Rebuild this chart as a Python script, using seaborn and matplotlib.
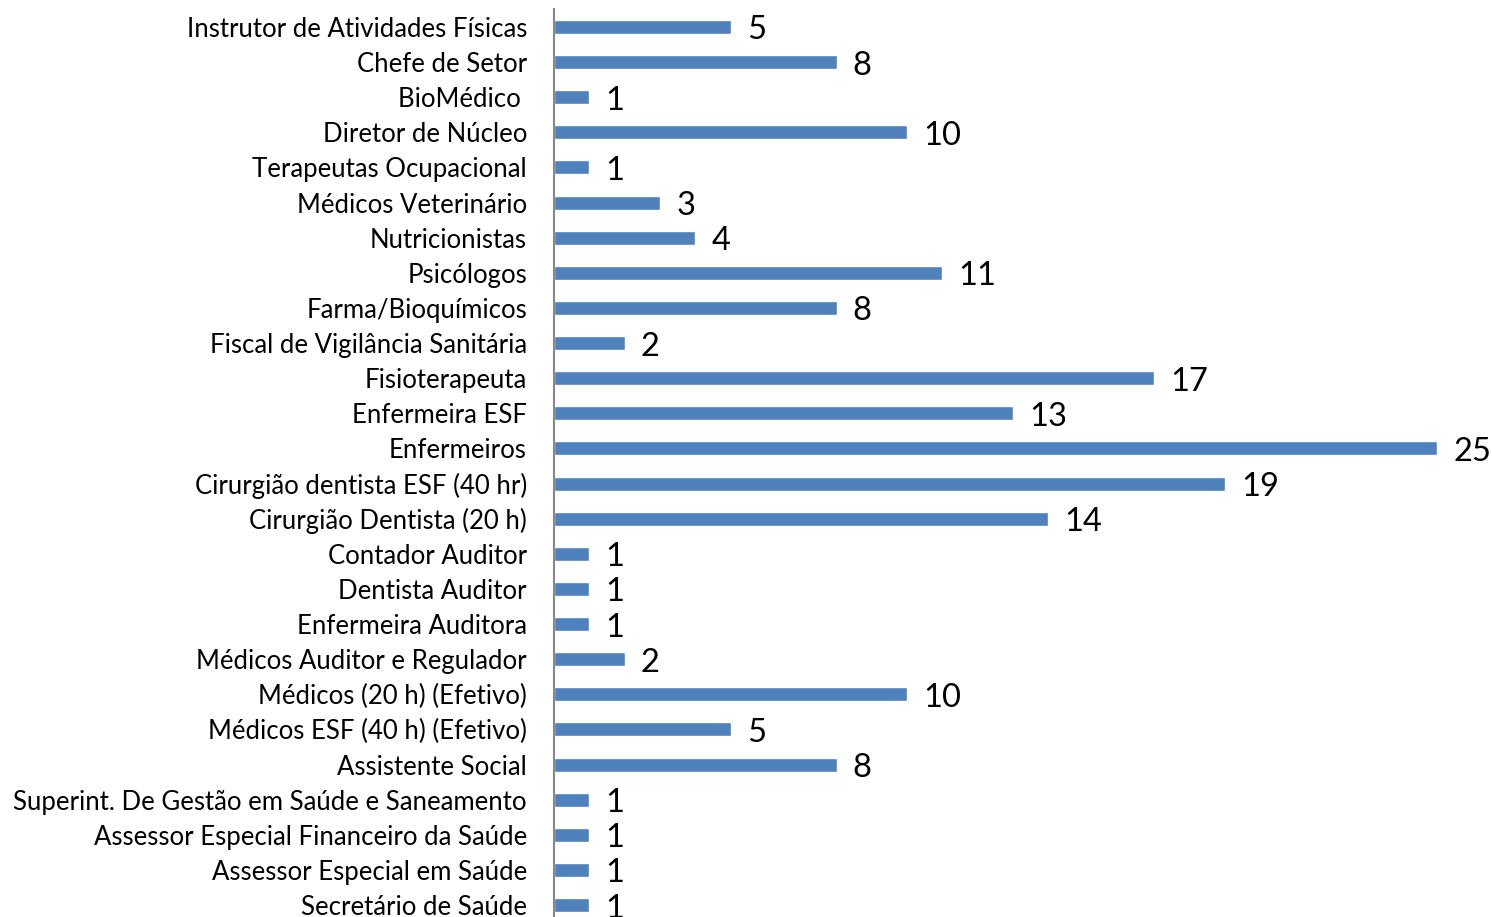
import matplotlib
matplotlib.use("Agg")
import matplotlib.pyplot as plt
import seaborn as sns
import pandas as pd

# categories listed top to bottom as in the chart
cargos = [
    "Instrutor de Atividades Físicas",
    "Chefe de Setor",
    "BioMédico ",
    "Diretor de Núcleo",
    "Terapeutas Ocupacional",
    "Médicos Veterinário",
    "Nutricionistas",
    "Psicólogos",
    "Farma/Bioquímicos",
    "Fiscal de Vigilância Sanitária",
    "Fisioterapeuta",
    "Enfermeira ESF",
    "Enfermeiros",
    "Cirurgião dentista ESF (40 hr)",
    "Cirurgião Dentista (20 h)",
    "Contador Auditor",
    "Dentista Auditor",
    "Enfermeira Auditora",
    "Médicos Auditor e Regulador",
    "Médicos (20 h) (Efetivo)",
    "Médicos ESF (40 h) (Efetivo)",
    "Assistente Social",
    "Superint. De Gestão em Saúde e Saneamento",
    "Assessor Especial Financeiro da Saúde",
    "Assessor Especial em Saúde",
    "Secretário de Saúde",
]
quantidade = [5, 8, 1, 10, 1, 3, 4, 11, 8, 2, 17, 13, 25, 19, 14,
              1, 1, 1, 2, 10, 5, 8, 1, 1, 1, 1]

df = pd.DataFrame({"cargo": cargos, "qtd": quantidade})

sns.set_theme(style="white")
plt.rcParams["font.family"] = ["Lato", "DejaVu Sans"]

fig = plt.figure(figsize=(14.92, 9.17), dpi=100)
ax = fig.add_axes([554 / 1492, 0, 1 - 554 / 1492, 1 - 9.4 / 917])

sns.barplot(data=df, x="qtd", y="cargo", color="#4F81BD", saturation=1,
            width=0.4, orient="h", ax=ax)

for i, v in enumerate(quantidade):
    ax.text(v + 0.46, i + 0.1, str(v), va="center", ha="left",
            fontsize=23.5, color="black")

ax.set_xlim(0, 26.56)
ax.set_ylim(25.34, -0.5)
ax.set_xlabel("")
ax.set_ylabel("")
ax.set_xticks([])
ax.tick_params(axis="y", length=0, pad=19.5, labelsize=18.5, labelcolor="black")
for s in ["top", "right", "bottom"]:
    ax.spines[s].set_visible(False)
ax.spines["left"].set_color("#888888")
ax.spines["left"].set_linewidth(1.5)

fig.savefig("out.png", dpi=100)
